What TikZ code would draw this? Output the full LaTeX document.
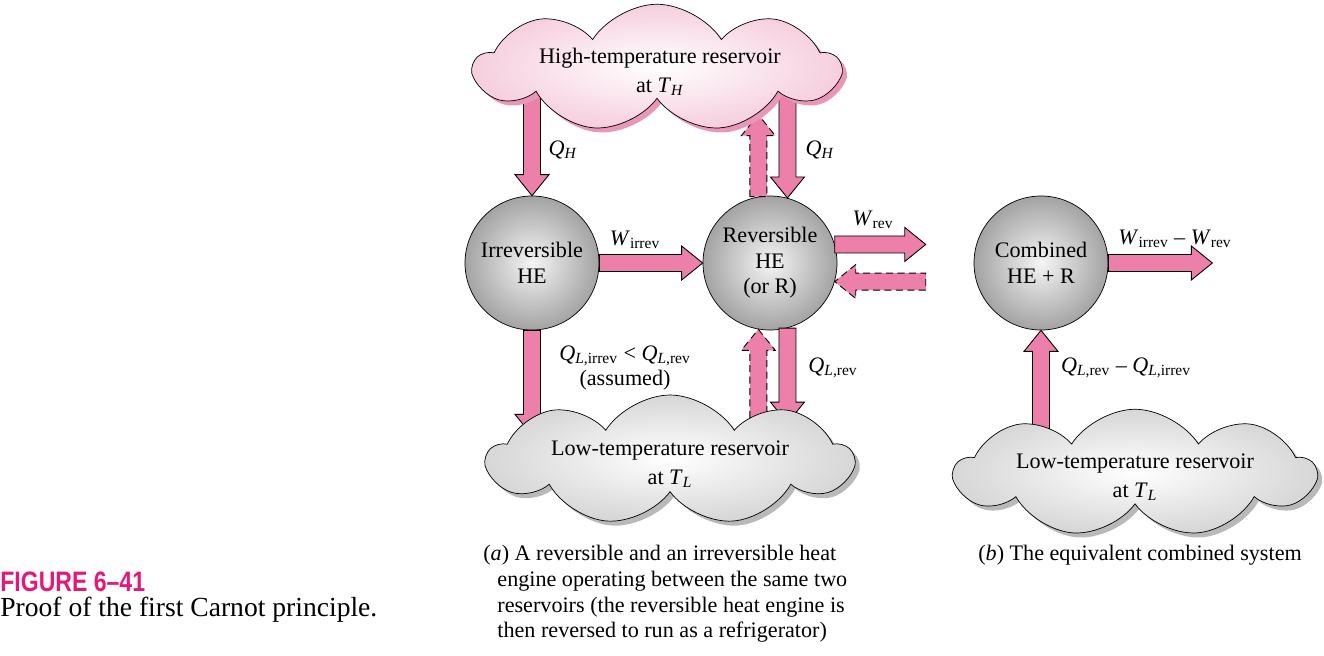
\documentclass[tikz,border=0pt]{standalone}
\usepackage{fontspec}
\setmainfont{Liberation Serif}
\newfontfamily\figfont[FakeStretch=0.82]{Liberation Sans}
\usetikzlibrary{shapes.symbols,shadows,calc,positioning}

\definecolor{flowpink}{RGB}{236,128,170}
\definecolor{cloudpink}{RGB}{246,206,222}
\definecolor{shadepink}{RGB}{234,150,184}
\definecolor{figmagenta}{RGB}{228,24,120}

\newcommand{\tsym}[2]{\textit{#1}\textsubscript{#2}}

\tikzset{
  engine/.style={circle, draw, minimum size=2.68cm, inner sep=0pt, align=center,
    shading=radial, inner color=gray!8, outer color=gray!72},
  reservoir/.style={cloud, draw, cloud puffs=9, cloud puff arc=115, cloud ignores aspect,
    inner sep=0pt, shading=radial, inner color=white},
  hotres/.style={reservoir, outer color=cloudpink,
    drop shadow={shadow xshift=.09cm, shadow yshift=-.09cm, fill=shadepink, opacity=1}},
  coldres/.style={reservoir, outer color=gray!32,
    drop shadow={shadow xshift=.09cm, shadow yshift=-.09cm, fill=gray!55, opacity=1}},
  restext/.style={align=center},
  heat/.style={draw, fill=flowpink, line width=.5pt, to path={
    ($(\tikztostart)!.17cm!90:(\tikztotarget)$)
    -- ($(\tikztotarget)!.42cm!(\tikztostart)!.17cm!90:(\tikztotarget)$)
    -- ($(\tikztotarget)!.42cm!(\tikztostart)!.34cm!90:(\tikztotarget)$)
    -- (\tikztotarget)
    -- ($(\tikztotarget)!.42cm!(\tikztostart)!.34cm!-90:(\tikztotarget)$)
    -- ($(\tikztotarget)!.42cm!(\tikztostart)!.17cm!-90:(\tikztotarget)$)
    -- ($(\tikztostart)!.17cm!-90:(\tikztotarget)$) -- cycle}},
  back/.style={heat, dashed, dash pattern=on 4pt off 2.5pt}
}

\begin{document}
\begin{tikzpicture}[node distance=4.76cm, font=\fontsize{12.6}{14.6}\selectfont]
\useasboundingbox (0,0) rectangle (26.48,-13.10);

% engines
\node[engine] (irr) at (10.64,-5.26) {Irreversible\\HE};
\node[engine, right of=irr] (rev) {Reversible\\HE\\(or R)};
\node[engine, right of=rev, node distance=5.42cm] (comb) {Combined\\HE + R};

% free ends
\coordinate (hin1) at ($(irr.north)+(0,2.3)$);
\coordinate (hin2) at ($(rev.75)+(0,2.3)$);
\coordinate (hout) at ($(rev.100)+(0,1.64)$);
\coordinate (wout) at ($(rev.16)+(1.82,0)$);
\coordinate (win) at ($(rev.-16)+(1.82,0)$);
\coordinate (lout1) at ($(irr.south)+(0,-2.1)$);
\coordinate (lin2) at ($(rev.260)+(0,-2.0)$);
\coordinate (lout2) at ($(rev.285)+(0,-1.9)$);
\coordinate (wnet) at ($(comb.east)+(2.08,0)$);
\coordinate (lnet) at ($(comb.south)+(0,-2.2)$);

% flows
\draw[heat] (hin1) to (irr.north);
\draw[heat] (hin2) to (rev.75);
\draw[back] (rev.100) to (hout);
\draw[heat] (irr.east) to (rev.west);
\draw[heat] (rev.16) to (wout);
\draw[back] (win) to (rev.-16);
\draw[heat] (irr.south) to (lout1);
\draw[back] (lin2) to (rev.260);
\draw[heat] (rev.285) to (lout2);
\draw[heat] (comb.east) to (wnet);
\draw[heat] (lnet) to (comb.south);

% reservoirs
\node[hotres, minimum width=7.3cm, minimum height=2.55cm, above of=irr, node distance=3.9cm, xshift=2.5cm] (hot) {};
\node[coldres, minimum width=7.3cm, minimum height=2.6cm, below of=irr, node distance=3.94cm, xshift=2.76cm] (cold) {};
\node[coldres, minimum width=7.2cm, minimum height=2.55cm, below of=comb, node distance=4.2cm, xshift=1.88cm] (cold2) {};
\node[restext] (hottxt) at ($(hot)+(0.06,-0.08)$) {High-temperature reservoir\\[2pt]at \tsym{T}{\textit{H}}};
\node[restext] (coldtxt) at ($(cold)+(0,-0.08)$) {Low-temperature reservoir\\[2pt]at \tsym{T}{\textit{L}}};
\node[restext] (cold2txt) at ($(cold2)+(0,-0.08)$) {Low-temperature reservoir\\[2pt]at \tsym{T}{\textit{L}}};

% labels
\node (lqh1) at (11.26,-3.0) {\tsym{Q}{\textit{H}}};
\node (lqh2) at (16.40,-3.0) {\tsym{Q}{\textit{H}}};
\node (lwirr) at (12.70,-4.80) {\tsym{W}{irrev}};
\node (lwrev) at (17.46,-4.40) {\tsym{W}{rev}};
\node (lqlirr) [align=center] at (12.50,-7.36) {\tsym{Q}{\textit{L},irrev} < \tsym{Q}{\textit{L},rev}\\(assumed)};
\node (lqlrev) at (16.66,-7.36) {\tsym{Q}{\textit{L},rev}};
\node (lwnet) at (23.50,-4.78) {\tsym{W}{irrev} – \tsym{W}{rev}};
\node (lqlnet) at (22.52,-7.36) {\tsym{Q}{\textit{L},rev} – \tsym{Q}{\textit{L},irrev}};

% captions
\node (capa) [anchor=north west, inner sep=0pt, align=left] at (9.66,-10.9)
  {(\textit{a}) A reversible and an irreversible heat\\
   \hspace*{8pt}engine operating between the same two\\
   \hspace*{8pt}reservoirs (the reversible heat engine is\\
   \hspace*{8pt}then reversed to run as a refrigerator)};
\node (capb) [anchor=north west, inner sep=0pt] at (19.56,-10.9)
  {(\textit{b}) The equivalent combined system};
\node (figno) [anchor=west, inner sep=0pt, text=figmagenta, font=\figfont\bfseries\fontsize{16}{18}\selectfont] at (0,-11.64) {FIGURE 6–41};
\node (figcap) [anchor=west, inner sep=0pt, font=\rmfamily\fontsize{15.7}{18}\selectfont] at (0,-12.2) {Proof of the first Carnot principle.};
\end{tikzpicture}
\end{document}
